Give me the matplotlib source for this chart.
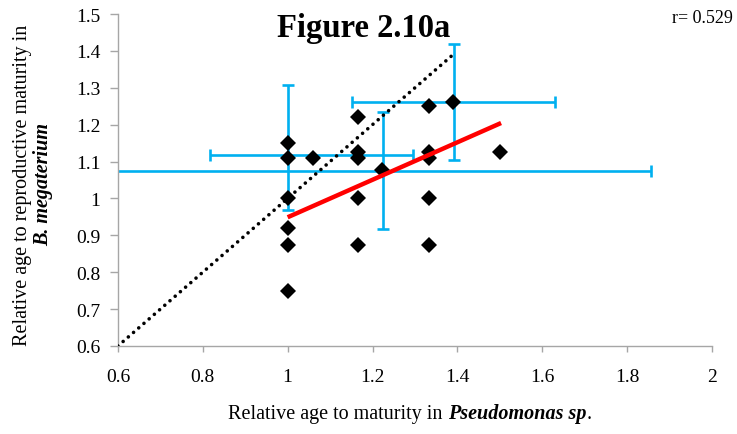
import matplotlib
matplotlib.use("Agg")
import matplotlib.pyplot as plt
import numpy as np

# Individual observations (relative ages)
pseudo_x = [1.0, 1.0, 1.0, 1.0, 1.0, 1.0,
            1.059,
            1.167, 1.167, 1.167, 1.167, 1.167,
            1.222,
            1.333, 1.333, 1.333, 1.333, 1.333,
            1.389,
            1.5]
mega_y = [1.15, 1.111, 1.0, 0.92, 0.875, 0.75,
          1.111,
          1.222, 1.125, 1.111, 1.0, 0.875,
          1.077,
          1.25, 1.125, 1.111, 1.0, 0.875,
          1.261,
          1.125]

# Group means with standard deviations
mean_x = [1.224, 1.391, 1.056, 1.0]
mean_y = [1.075, 1.261, 1.118, 1.138]
sd_x = [0.633, 0.240, 0.240, 0.0]
sd_y = [0.158, 0.158, 0.0, 0.169]

# Regression line and 1:1 reference line
trend_x = [1.0, 1.503]
trend_y = [0.949, 1.2045]
unity = [0.6, 1.39]

x_ticks = [0.6, 0.8, 1.0, 1.2, 1.4, 1.6, 1.8, 2.0]
x_tick_labels = ["0.6", "0.8", "1", "1.2", "1.4", "1.6", "1.8", "2"]
y_ticks = [0.6, 0.7, 0.8, 0.9, 1.0, 1.1, 1.2, 1.3, 1.4, 1.5]
y_tick_labels = ["0.6", "0.7", "0.8", "0.9", "1", "1.1", "1.2", "1.3", "1.4", "1.5"]

plt.rcParams['font.family'] = ['Liberation Serif', 'DejaVu Serif']

fig = plt.figure(figsize=(7.37, 4.35), dpi=100)
ax = fig.add_axes([0.160, 0.2023, 0.806, 0.7632])

blue = "#00b0f0"
for mx, my, ex, ey in zip(mean_x, mean_y, sd_x, sd_y):
    ax.errorbar(mx, my,
                xerr=ex if ex > 0 else None,
                yerr=ey if ey > 0 else None,
                fmt="none", ecolor=blue, elinewidth=1.9,
                capsize=4.5, capthick=1.9, zorder=1)

ax.plot(pseudo_x, mega_y, linestyle="none", marker="D", markersize=7.8,
        color="black", markeredgewidth=0, zorder=3)

ax.plot(unity, unity, color="black", linewidth=2.6,
        linestyle=(0, (0.01, 1.9)), dash_capstyle="round", zorder=4)

ax.plot(trend_x, trend_y, color="#ff0000", linewidth=3.2,
        solid_capstyle="butt", zorder=5)

ax.set_xlim(0.6, 2.0)
ax.set_ylim(0.6, 1.5)
ax.set_xticks(x_ticks)
ax.set_xticklabels(x_tick_labels)
ax.set_yticks(y_ticks)
ax.set_yticklabels(y_tick_labels)

for side in ("top", "right"):
    ax.spines[side].set_visible(False)
for side in ("left", "bottom"):
    ax.spines[side].set_color("#a6a6a6")
    ax.spines[side].set_linewidth(1.0)

ax.tick_params(axis="x", direction="out", length=4, width=1, color="#a6a6a6",
               pad=12, labelsize=14)
ax.tick_params(axis="y", direction="out", length=5.5, width=1, color="#a6a6a6",
               pad=7, labelsize=14)

# x-axis title built from plain, bold-italic and plain pieces laid end to end
label_size = 14.5
parts = [("Relative age to maturity in ", "normal", "normal"),
         ("Pseudomonas sp", "italic", "bold"),
         (".", "normal", "normal")]
texts = [fig.text(0, 0.048, s, ha="left", va="center", fontsize=label_size,
                  style=st, weight=wt) for s, st, wt in parts]
fig.canvas.draw()
renderer = fig.canvas.get_renderer()
widths = [t.get_window_extent(renderer).width for t in texts]
total = sum(widths)
x0 = 410 - total / 2
for t, w in zip(texts, widths):
    t.set_x(x0 / fig.bbox.width)
    x0 += w

fig.text(0.030, 0.575, "Relative age to reproductive maturity in",
         rotation=90, ha="center", va="center", fontsize=label_size)
fig.text(0.059, 0.575, "B. megaterium", rotation=90, ha="center",
         va="center", fontsize=label_size, style="italic", weight="bold")

fig.text(0.493, 0.935, "Figure 2.10a", ha="center", va="center",
         fontsize=23.5, weight="bold")
fig.text(0.995, 0.958, "r= 0.529", ha="right", va="center", fontsize=13)

fig.savefig("out.png", dpi=100)
